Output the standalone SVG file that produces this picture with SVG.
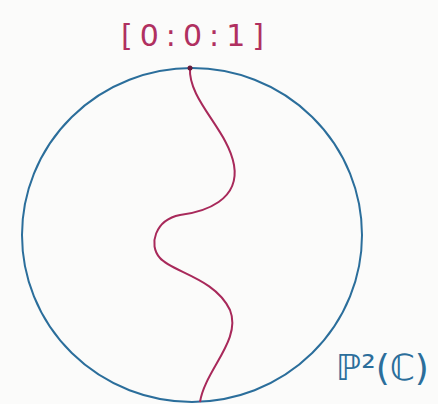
<svg xmlns="http://www.w3.org/2000/svg" width="438" height="404" viewBox="0 0 438 404">
<style>
.blue{fill:none;stroke:#2b6e9b;stroke-width:2}
.red{fill:none;stroke:#a8295a;stroke-width:2}
.lblr{font-family:"DejaVu Sans",sans-serif;fill:#b03060}
.lblb{font-family:"DejaVu Sans",sans-serif;fill:#2b6e9b}
</style>
<rect width="438" height="404" fill="#fbfbfa"/>
<g id="sphere">
<ellipse class="blue" cx="192" cy="235" rx="170" ry="167"/>
</g>
<g id="connectors">
<path class="red" d="M190,68 C188,100 228,130 234,165 C240,200 205,212 180,215 C155,220 148,245 160,258 C172,272 215,278 230,310 C242,340 205,370 200,402"/>
</g>
<g id="point">
<circle cx="190" cy="68" r="2.5" fill="#6a1a3a"/>
<text class="lblr" x="196" y="46" font-size="30" text-anchor="middle" letter-spacing="7">[0:0:1]</text>
</g>
<g id="label">
<text class="lblb" x="336" y="380" font-size="36">ℙ²(ℂ)</text>
</g>
</svg>
